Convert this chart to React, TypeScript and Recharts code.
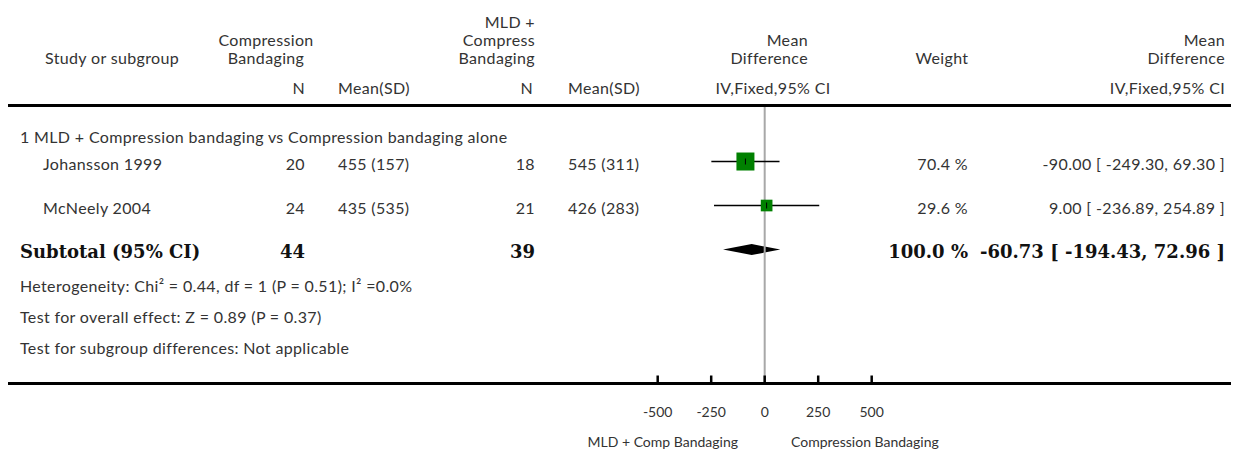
import React from "react";
import {
  ComposedChart,
  Scatter,
  ErrorBar,
  XAxis,
  YAxis,
  ReferenceLine,
  ReferenceArea,
  Customized,
} from "recharts";

// 各研究のデータ
const studyNames = ["Johansson 1999", "McNeely 2004"];
const compN = [20, 24];
const compMean = [455, 435];
const compSD = [157, 535];
const mldN = [18, 21];
const mldMean = [545, 426];
const mldSD = [311, 283];
const weights = [70.4, 29.6];
const meanDiff = [-90.0, 9.0];
const ciLow = [-249.3, -236.89];
const ciHigh = [69.3, 254.89];

// サブトータル
const subtotalN = [44, 39];
const subtotalWeight = 100.0;
const subtotalMD = -60.73;
const subtotalLow = -194.43;
const subtotalHigh = 72.96;

const xTicks = [-500, -250, 0, 250, 500];

const groupTitle = "1 MLD + Compression bandaging vs Compression bandaging alone";
const footNotes = [
  "Heterogeneity: Chi² = 0.44, df = 1 (P = 0.51); I² =0.0%",
  "Test for overall effect: Z = 0.89 (P = 0.37)",
  "Test for subgroup differences: Not applicable",
];
const favoursLeft = "MLD + Comp Bandaging";
const favoursRight = "Compression Bandaging";

// レイアウト
const W = 1231;
const H = 443;
const X_DOMAIN: [number, number] = [-3536, 2216.4];
const Y_DOMAIN: [number, number] = [-0.273, 6.045];
const SUB_ROW = 3;

const SANS = "Lato, 'Open Sans', sans-serif";
const SERIF = "'DejaVu Serif', serif";
const INK = "#333";

const fmtCI = (m: number, l: number, h: number) =>
  `${m.toFixed(2)} [ ${l.toFixed(2)}, ${h.toFixed(2)} ]`;

const points = studyNames.map((name, i) => ({
  name,
  x: meanDiff[i],
  y: i + 1,
  w: weights[i],
  err: [meanDiff[i] - ciLow[i], ciHigh[i] - meanDiff[i]],
}));

type TProps = {
  x: number;
  y: number;
  a?: "start" | "middle" | "end";
  bold?: boolean;
  small?: boolean;
  children: React.ReactNode;
};

const T = ({ x, y, a = "start", bold, small, children }: TProps) => (
  <text
    x={x}
    y={y}
    textAnchor={a}
    dominantBaseline="central"
    fontFamily={bold ? SERIF : SANS}
    fontWeight={bold ? "bold" : "normal"}
    fontSize={bold ? 18 : small ? 14 : 16}
    letterSpacing={bold || small ? 0 : 0.35}
    fill={bold ? "#111" : INK}
  >
    {children}
  </text>
);

const rowY = [163, 207];

// 文字はページ座標で書いて、まとめて -8 ずらす
const TextLayer = () => (
  <g transform="translate(-8,-8)">
    <T x={45} y={57}>Study or subgroup</T>
    <T x={266} y={39} a="middle">Compression</T>
    <T x={266} y={57} a="middle">Bandaging</T>
    <T x={305} y={87} a="end">N</T>
    <T x={338} y={87}>Mean(SD)</T>
    <T x={535} y={21} a="end">MLD +</T>
    <T x={535} y={39} a="end">Compress</T>
    <T x={535} y={57} a="end">Bandaging</T>
    <T x={533} y={87} a="end">N</T>
    <T x={568} y={87}>Mean(SD)</T>
    <T x={808} y={39} a="end">Mean</T>
    <T x={808} y={57} a="end">Difference</T>
    <T x={773} y={87} a="middle">IV,Fixed,95% CI</T>
    <T x={942} y={57} a="middle">Weight</T>
    <T x={1225} y={39} a="end">Mean</T>
    <T x={1225} y={57} a="end">Difference</T>
    <T x={1225} y={87} a="end">IV,Fixed,95% CI</T>

    <T x={20} y={136}>{groupTitle}</T>
    {studyNames.map((name, i) => (
      <g key={name}>
        <T x={43} y={rowY[i]}>{name}</T>
        <T x={305} y={rowY[i]} a="end">{compN[i]}</T>
        <T x={338} y={rowY[i]}>{`${compMean[i]} (${compSD[i]})`}</T>
        <T x={535} y={rowY[i]} a="end">{mldN[i]}</T>
        <T x={568} y={rowY[i]}>{`${mldMean[i]} (${mldSD[i]})`}</T>
        <T x={968} y={rowY[i]} a="end">{`${weights[i].toFixed(1)} %`}</T>
        <T x={1225} y={rowY[i]} a="end">
          {fmtCI(meanDiff[i], ciLow[i], ciHigh[i])}
        </T>
      </g>
    ))}

    <T x={20} y={251} bold>Subtotal (95% CI)</T>
    <T x={305} y={251} a="end" bold>{subtotalN[0]}</T>
    <T x={535} y={251} a="end" bold>{subtotalN[1]}</T>
    <T x={968} y={251} a="end" bold>{`${subtotalWeight.toFixed(1)} %`}</T>
    <T x={1225} y={251} a="end" bold>
      {fmtCI(subtotalMD, subtotalLow, subtotalHigh)}
    </T>

    {footNotes.map((t, i) => (
      <T key={t} x={20} y={285 + i * 31}>{t}</T>
    ))}

    <T x={738} y={441} a="end" small>{favoursLeft}</T>
    <T x={791} y={441} small>{favoursRight}</T>
  </g>
);

const StudySquare = (props: any) => {
  const { cx, cy, payload } = props;
  const side = 2.145 * Math.sqrt(payload.w);
  return (
    <g>
      <rect
        x={cx - side / 2}
        y={cy - side / 2}
        width={side}
        height={side}
        fill="#008000"
      />
      <line x1={cx} x2={cx} y1={cy - 3} y2={cy + 3} stroke="#000" strokeWidth={1} />
    </g>
  );
};

const Diamond = (props: any) => {
  const { x, y, width, height } = props;
  const cx = x + (width * (subtotalMD - subtotalLow)) / (subtotalHigh - subtotalLow);
  const my = y + height / 2;
  return (
    <polygon
      points={`${x},${my} ${cx},${y} ${x + width},${my} ${cx},${y + height}`}
      fill="#000"
    />
  );
};

const AxisTick = (props: any) => {
  const { x, y, payload } = props;
  return (
    <g>
      <line x1={x} x2={x} y1={y - 8} y2={y} stroke="#000" strokeWidth={2.5} />
      <text
        x={x}
        y={y + 28}
        textAnchor="middle"
        dominantBaseline="central"
        fontFamily={SANS}
        fontSize={14}
        fill={INK}
      >
        {payload.value}
      </text>
    </g>
  );
};

export default function App() {
  return (
    <div style={{ width: W, height: H, background: "#fff" }}>
      <ComposedChart
        width={W}
        height={H}
        margin={{ top: 97.5, right: 0, bottom: 7.5, left: 0 }}
      >
        <XAxis
          type="number"
          dataKey="x"
          domain={X_DOMAIN}
          ticks={xTicks}
          interval={0}
          allowDataOverflow
          height={60}
          tickSize={0}
          tickMargin={0}
          tickLine={false}
          axisLine={{ stroke: "#000", strokeWidth: 3 }}
          tick={<AxisTick />}
        />
        <YAxis type="number" dataKey="y" domain={Y_DOMAIN} reversed hide allowDataOverflow />
        <ReferenceLine x={0} stroke="#a8a8a8" strokeWidth={2} />
        <ReferenceLine y={Y_DOMAIN[0]} stroke="#000" strokeWidth={3} ifOverflow="visible" />
        <ReferenceArea
          x1={subtotalLow}
          x2={subtotalHigh}
          y1={SUB_ROW - 0.125}
          y2={SUB_ROW + 0.125}
          shape={<Diamond />}
          ifOverflow="visible"
        />
        <Scatter data={points} dataKey="y" shape={<StudySquare />} isAnimationActive={false}>
          <ErrorBar
            dataKey="err"
            direction="x"
            width={0}
            stroke="#000"
            strokeWidth={1.5}
            isAnimationActive={false}
          />
        </Scatter>
        <Customized component={TextLayer} />
      </ComposedChart>
    </div>
  );
}
